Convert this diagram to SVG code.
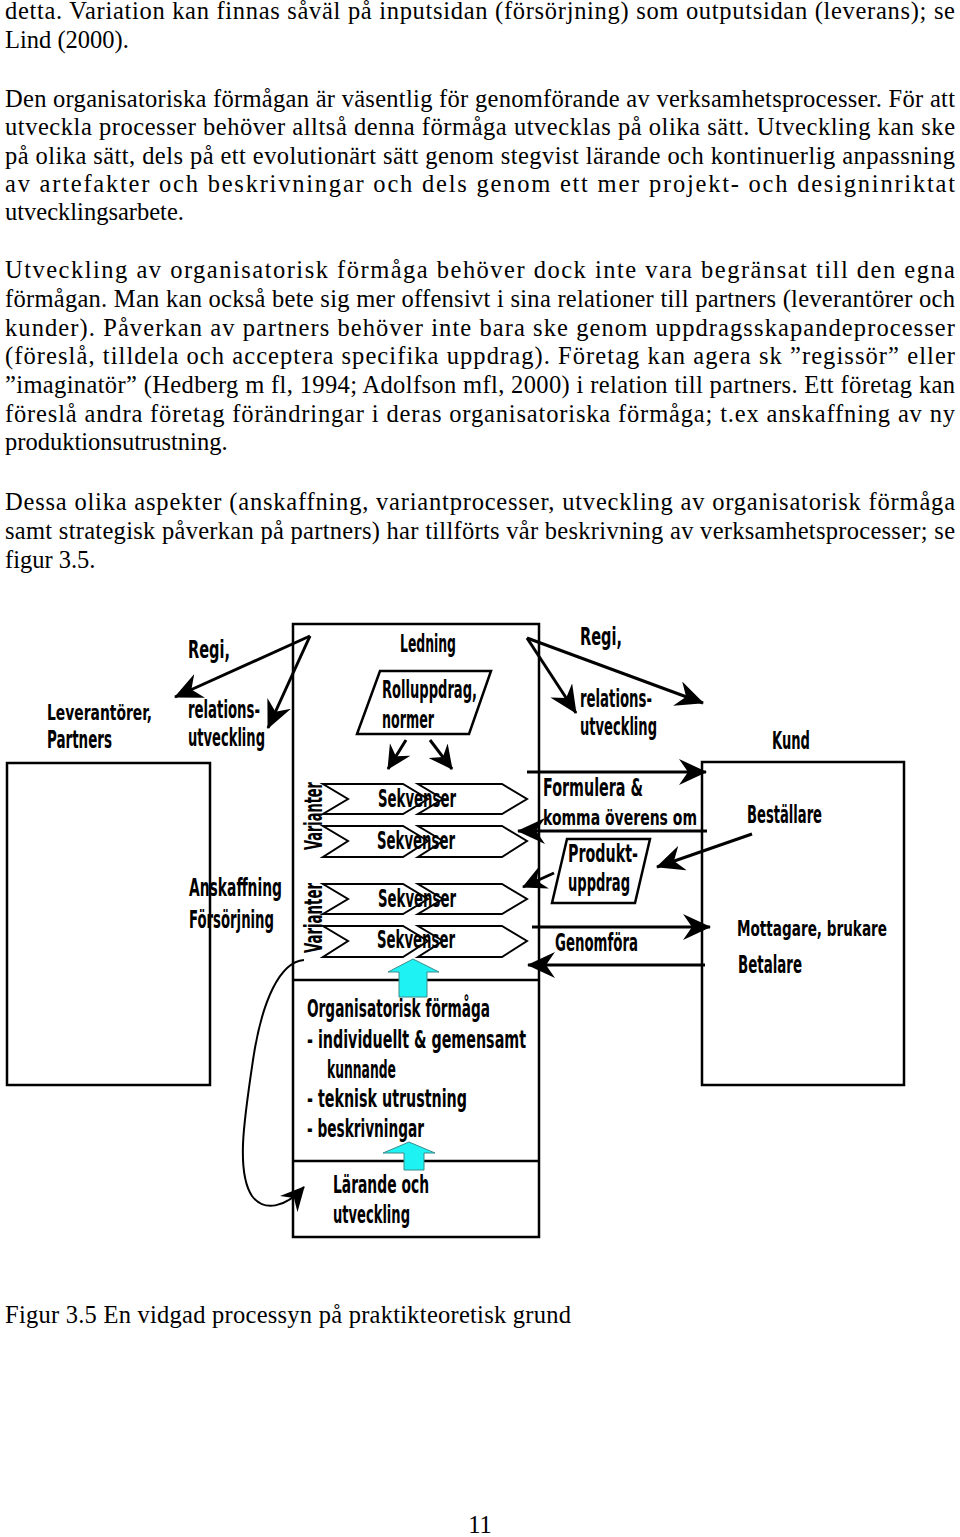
<svg xmlns="http://www.w3.org/2000/svg" width="960" height="1537" viewBox="0 0 960 1537">
<style>
.body{font-family:"Liberation Serif","Times New Roman",serif;font-size:24.5px;fill:#000}
.lbl{font-family:"Liberation Sans Narrow","DejaVu Sans Condensed","Liberation Sans",sans-serif;font-weight:bold;font-size:25px;fill:#000}
.sm{font-size:22px}
.box{fill:none;stroke:#000;stroke-width:2.5}
.ln{fill:none;stroke:#000;stroke-width:3}
.thin{fill:none;stroke:#000;stroke-width:2}
.chev{fill:#fff;stroke:#000;stroke-width:2}
.cyan{fill:#1ff2f2;stroke:#3a8c8c;stroke-width:1}
</style>
<defs>
<marker id="ah" markerUnits="userSpaceOnUse" markerWidth="28" markerHeight="26" viewBox="0 0 28 26" refX="27" refY="13" orient="auto">
<path d="M0,0 L28,13 L0,26 L9,13 Z" fill="#000"/>
</marker>
<marker id="ahs" markerUnits="userSpaceOnUse" markerWidth="24" markerHeight="24" viewBox="0 0 24 24" refX="23" refY="12" orient="auto">
<path d="M0,0 L24,12 L0,24 L8,12 Z" fill="#000"/>
</marker>
</defs>
<rect width="960" height="1537" fill="#fff"/>

<g id="text-body" class="body">
<text x="5" y="19" textLength="950" lengthAdjust="spacing">detta. Variation kan finnas såväl på inputsidan (försörjning) som outputsidan (leverans); se</text>
<text x="5" y="48">Lind (2000).</text>
<text x="5" y="107" textLength="950" lengthAdjust="spacing">Den organisatoriska förmågan är väsentlig för genomförande av verksamhetsprocesser. För att</text>
<text x="5" y="135" textLength="950" lengthAdjust="spacing">utveckla processer behöver alltså denna förmåga utvecklas på olika sätt. Utveckling kan ske</text>
<text x="5" y="164" textLength="950" lengthAdjust="spacing">på olika sätt, dels på ett evolutionärt sätt genom stegvist lärande och kontinuerlig anpassning</text>
<text x="5" y="192" textLength="950" lengthAdjust="spacing">av artefakter och beskrivningar och dels genom ett mer projekt- och designinriktat</text>
<text x="5" y="220">utvecklingsarbete.</text>
<text x="5" y="278" textLength="950" lengthAdjust="spacing">Utveckling av organisatorisk förmåga behöver dock inte vara begränsat till den egna</text>
<text x="5" y="307" textLength="950" lengthAdjust="spacing">förmågan. Man kan också bete sig mer offensivt i sina relationer till partners (leverantörer och</text>
<text x="5" y="336" textLength="950" lengthAdjust="spacing">kunder). Påverkan av partners behöver inte bara ske genom uppdragsskapandeprocesser</text>
<text x="5" y="364" textLength="950" lengthAdjust="spacing">(föreslå, tilldela och acceptera specifika uppdrag). Företag kan agera sk ”regissör” eller</text>
<text x="5" y="393" textLength="950" lengthAdjust="spacing">”imaginatör” (Hedberg m fl, 1994; Adolfson mfl, 2000) i relation till partners. Ett företag kan</text>
<text x="5" y="422" textLength="950" lengthAdjust="spacing">föreslå andra företag förändringar i deras organisatoriska förmåga; t.ex anskaffning av ny</text>
<text x="5" y="450">produktionsutrustning.</text>
<text x="5" y="510" textLength="950" lengthAdjust="spacing">Dessa olika aspekter (anskaffning, variantprocesser, utveckling av organisatorisk förmåga</text>
<text x="5" y="539" textLength="950" lengthAdjust="spacing">samt strategisk påverkan på partners) har tillförts vår beskrivning av verksamhetsprocesser; se</text>
<text x="5" y="568">figur 3.5.</text>
<text x="5" y="1323" textLength="566" lengthAdjust="spacing">Figur 3.5 En vidgad processyn på praktikteoretisk grund</text>
<text x="480" y="1533" text-anchor="middle">11</text>
</g>

<g id="leverantorer">
<rect class="box" x="7" y="763" width="203" height="322"/>
<text class="lbl sm" x="47" y="720" textLength="105" lengthAdjust="spacingAndGlyphs">Leverantörer,</text>
<text class="lbl" x="47" y="748" textLength="65" lengthAdjust="spacingAndGlyphs">Partners</text>
</g>

<g id="anskaffning">
<text class="lbl" x="189" y="896" textLength="93" lengthAdjust="spacingAndGlyphs">Anskaffning</text>
<text class="lbl" x="189" y="928" textLength="85" lengthAdjust="spacingAndGlyphs">Försörjning</text>
</g>

<g id="regi-left">
<text class="lbl" x="188" y="658" textLength="42" lengthAdjust="spacingAndGlyphs">Regi,</text>
<text class="lbl" x="188" y="718" textLength="72" lengthAdjust="spacingAndGlyphs">relations-</text>
<text class="lbl" x="188" y="746" textLength="77" lengthAdjust="spacingAndGlyphs">utveckling</text>
</g>

<g id="regi-right">
<text class="lbl" x="580" y="645" textLength="42" lengthAdjust="spacingAndGlyphs">Regi,</text>
<text class="lbl" x="580" y="707" textLength="72" lengthAdjust="spacingAndGlyphs">relations-</text>
<text class="lbl" x="580" y="735" textLength="77" lengthAdjust="spacingAndGlyphs">utveckling</text>
</g>

<g id="verksamhet">
<rect class="box" x="293" y="624" width="246" height="613"/>
<line class="box" x1="293" y1="980" x2="539" y2="980"/>
<line class="box" x1="293" y1="1161" x2="539" y2="1161"/>
<text class="lbl" x="400" y="652" textLength="56" lengthAdjust="spacingAndGlyphs">Ledning</text>
</g>

<g id="rolluppdrag">
<polygon class="box" points="380,671 491,671 469,734 357,734"/>
<text class="lbl" x="382" y="698" textLength="95" lengthAdjust="spacingAndGlyphs">Rolluppdrag,</text>
<text class="lbl" x="382" y="728" textLength="52" lengthAdjust="spacingAndGlyphs">normer</text>
</g>

<g id="sekvenser">
<polygon class="chev" points="323,784 403,784 428,799 403,814 323,814 348,799"/>
<polygon class="chev" points="418,784 502,784 527,799 502,814 418,814 443,799"/>
<polygon class="chev" points="323,826 403,826 428,841 403,857 323,857 348,841"/>
<polygon class="chev" points="418,826 502,826 527,841 502,857 418,857 443,841"/>
<polygon class="chev" points="323,884 403,884 428,899 403,914 323,914 348,899"/>
<polygon class="chev" points="418,884 502,884 527,899 502,914 418,914 443,899"/>
<polygon class="chev" points="323,926 403,926 428,941 403,957 323,957 348,941"/>
<polygon class="chev" points="418,926 502,926 527,941 502,957 418,957 443,941"/>
<text class="lbl" x="378" y="807" textLength="78" lengthAdjust="spacingAndGlyphs">Sekvenser</text>
<text class="lbl" x="377" y="849" textLength="78" lengthAdjust="spacingAndGlyphs">Sekvenser</text>
<text class="lbl" x="378" y="907" textLength="78" lengthAdjust="spacingAndGlyphs">Sekvenser</text>
<text class="lbl" x="377" y="948" textLength="78" lengthAdjust="spacingAndGlyphs">Sekvenser</text>
<text class="lbl" transform="translate(322,850) rotate(-90)" textLength="68" lengthAdjust="spacingAndGlyphs">Varianter</text>
<text class="lbl" transform="translate(322,953) rotate(-90)" textLength="70" lengthAdjust="spacingAndGlyphs">Varianter</text>
</g>

<g id="org-formaga">
<text class="lbl" x="307" y="1017" textLength="183" lengthAdjust="spacingAndGlyphs">Organisatorisk förmåga</text>
<text class="lbl" x="307" y="1048" textLength="219" lengthAdjust="spacingAndGlyphs">- individuellt &amp; gemensamt</text>
<text class="lbl" x="327" y="1078" textLength="69" lengthAdjust="spacingAndGlyphs">kunnande</text>
<text class="lbl" x="307" y="1107" textLength="160" lengthAdjust="spacingAndGlyphs">- teknisk utrustning</text>
<text class="lbl" x="307" y="1137" textLength="117" lengthAdjust="spacingAndGlyphs">- beskrivningar</text>
</g>

<g id="larande">
<text class="lbl" x="333" y="1193" textLength="96" lengthAdjust="spacingAndGlyphs">Lärande och</text>
<text class="lbl" x="333" y="1223" textLength="77" lengthAdjust="spacingAndGlyphs">utveckling</text>
</g>

<g id="cyan-arrows">
<polygon class="cyan" points="399,997 399,972 388,972 413,959 439,972 427,972 427,997"/>
<polygon class="cyan" points="404,1170 404,1153 383,1153 409,1142 435,1153 424,1153 424,1170"/>
</g>

<g id="kommunikation">
<text class="lbl" x="543" y="796" textLength="100" lengthAdjust="spacingAndGlyphs">Formulera &amp;</text>
<text class="lbl sm" x="543" y="825" textLength="154" lengthAdjust="spacingAndGlyphs">komma överens om</text>
<text class="lbl" x="555" y="951" textLength="83" lengthAdjust="spacingAndGlyphs">Genomföra</text>
</g>

<g id="produktuppdrag">
<polygon class="box" points="567,839 650,839 635,903 552,903"/>
<text class="lbl" x="568" y="862" textLength="70" lengthAdjust="spacingAndGlyphs">Produkt-</text>
<text class="lbl" x="568" y="891" textLength="62" lengthAdjust="spacingAndGlyphs">uppdrag</text>
</g>

<g id="kund">
<rect class="box" x="702" y="762" width="202" height="323"/>
<text class="lbl" x="772" y="749" textLength="38" lengthAdjust="spacingAndGlyphs">Kund</text>
<text class="lbl" x="747" y="823" textLength="75" lengthAdjust="spacingAndGlyphs">Beställare</text>
<text class="lbl sm" x="737" y="936" textLength="150" lengthAdjust="spacingAndGlyphs">Mottagare, brukare</text>
<text class="lbl" x="738" y="973" textLength="64" lengthAdjust="spacingAndGlyphs">Betalare</text>
</g>

<g id="connectors">
<line class="ln" x1="310" y1="636" x2="175" y2="697" marker-end="url(#ah)"/>
<line class="ln" x1="310" y1="636" x2="268" y2="728" marker-end="url(#ah)"/>
<line class="ln" x1="527" y1="638" x2="703" y2="703" marker-end="url(#ah)"/>
<line class="ln" x1="527" y1="638" x2="576" y2="713" marker-end="url(#ah)"/>
<line class="ln" x1="406" y1="740" x2="388" y2="769" marker-end="url(#ahs)"/>
<line class="ln" x1="430" y1="740" x2="452" y2="769" marker-end="url(#ahs)"/>
<line class="ln" x1="527" y1="772" x2="706" y2="772" marker-end="url(#ah)"/>
<line class="ln" x1="707" y1="831" x2="518" y2="831" marker-end="url(#ah)"/>
<line class="ln" x1="752" y1="834" x2="657" y2="867" marker-end="url(#ah)"/>
<line class="ln" x1="554" y1="873" x2="523" y2="887" marker-end="url(#ahs)"/>
<line class="ln" x1="532" y1="927" x2="710" y2="927" marker-end="url(#ah)"/>
<line class="ln" x1="705" y1="965" x2="528" y2="965" marker-end="url(#ah)"/>
<path class="thin" d="M304,960 C280,962 262,1000 253,1060 C244,1120 236,1172 252,1196 C264,1212 285,1208 304,1187" marker-end="url(#ahs)"/>
</g>
</svg>
